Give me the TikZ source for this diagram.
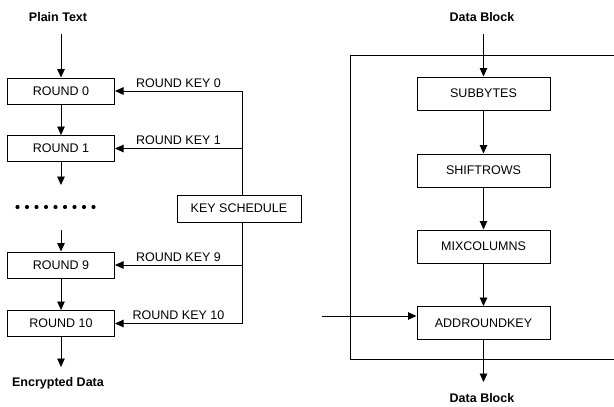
\documentclass[tikz,border=0pt]{standalone}
\usepackage{fontspec}
\setmainfont{Liberation Sans}
\usetikzlibrary{arrows.meta, positioning}

\begin{document}
\begin{tikzpicture}[
  x=1pt, y=-1pt,
  line width=0.9pt,
  font=\fontsize{12.5}{15}\selectfont,
  roundbox/.style={
    draw=black,
    line width=1pt,
    minimum width=107pt,
    minimum height=26pt,
    inner sep=0pt,
  },
  stepbox/.style={
    draw=black,
    line width=1pt,
    minimum width=133pt,
    minimum height=33pt,
    inner sep=0pt,
  },
  keybox/.style={
    draw=black,
    line width=1pt,
    minimum width=124pt,
    minimum height=27pt,
    inner sep=0pt,
  },
  flow/.style={-{Triangle[width=7.5pt,length=8.5pt]}},
  title/.style={font=\bfseries\fontsize{12.5}{15}\selectfont},
]
  \useasboundingbox (0,0) rectangle (614,407);

  % === LEFT: rounds of the cipher ===
  \node[title] (pt) at (58, 17) {Plain Text};
  \node[roundbox] (r0) at (61, 91) {ROUND 0};
  \node[roundbox] (r1) at (61, 148.5) {ROUND 1};
  \node[roundbox] (r9) at (61, 265) {ROUND 9};
  \node[roundbox] (r10) at (61, 323.5) {ROUND 10};
  \node[title] (enc) at (58, 383) {Encrypted Data};

  \coordinate (r1-out) at (61, 185);
  \coordinate (r9-in) at (61, 230);
  \coordinate (r10-out) at (61, 367);

  \draw[flow] ([yshift=-9pt]pt.south -| r0.north) -- (r0.north);
  \draw[flow] (r0.south) -- (r1.north);
  \draw[flow] (r1.south) -- (r1-out);
  \draw[flow] (r9-in) -- (r9.north);
  \draw[flow] (r9.south) -- (r10.north);
  \draw[flow] (r10.south) -- (r10-out);

  % dotted gap between round 1 and round 9
  \foreach \i in {0,...,8}
    \fill (17.5+\i*9.5, 207) circle (2.1);

  % === KEY SCHEDULE ===
  \node[keybox] (ks) at (239, 208.5) {KEY SCHEDULE};
  \coordinate (k0) at (242, 91);
  \coordinate (k1) at (242, 148.5);
  \coordinate (k9) at (242, 265);
  \coordinate (k10) at (242, 323.5);

  \draw (k0) -- (k0 |- ks.north);
  \draw (k0 |- ks.south) -- (k10);

  \draw[flow] (k0) -- (r0.east) node[midway, above] {ROUND KEY 0};
  \draw[flow] (k1) -- (r1.east) node[midway, above] {ROUND KEY 1};
  \draw[flow] (k9) -- (r9.east) node[midway, above] {ROUND KEY 9};
  \draw[flow] (k10) -- (r10.east) node[midway, above] {ROUND KEY 10};

  % === RIGHT: one round ===
  \node[title] (db-in) at (482, 17) {Data Block};
  \node[stepbox] (sub) at (483.5, 93.5) {SUBBYTES};
  \node[stepbox] (shift) at (483.5, 170.5) {SHIFTROWS};
  \node[stepbox] (mix) at (483.5, 246.5) {MIXCOLUMNS};
  \node[stepbox] (ark) at (483.5, 323) {ADDROUNDKEY};
  \node[title] (db-out) at (482, 398) {Data Block};

  % frame round the round (open at the right)
  \draw (614, 55) -- (350, 55) -- (350, 359) -- (614, 359);

  \coordinate (key-in) at (322, 316);
  \coordinate (ark-out) at (483.5, 382);

  \draw[flow] ([yshift=-9pt]db-in.south -| sub.north) -- (sub.north);
  \draw[flow] (sub.south) -- (shift.north);
  \draw[flow] (shift.south) -- (mix.north);
  \draw[flow] (mix.south) -- (ark.north);
  \draw[flow] (ark.south) -- (ark-out);
  \draw[flow] (key-in) -- (key-in -| ark.west);

\end{tikzpicture}
\end{document}
